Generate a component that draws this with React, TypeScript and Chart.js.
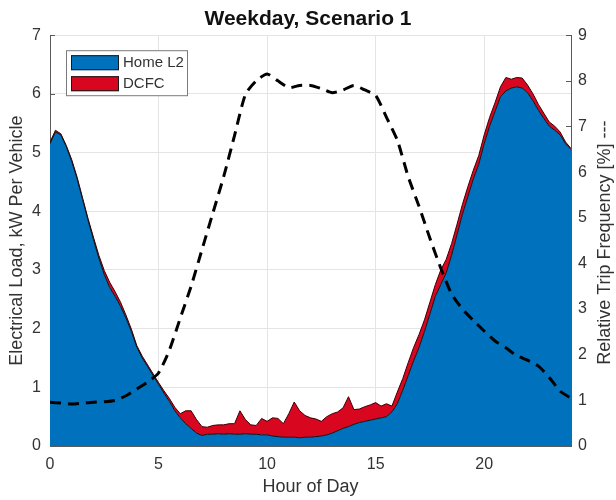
import React, { useEffect, useRef } from 'react';
import { Chart, registerables } from 'chart.js';

Chart.register(...registerables);

// ---- data ----
const loadHours = [
  0, 0.25, 0.5, 0.75, 1, 1.25, 1.5, 1.75, 2, 2.25,
  2.5, 2.75, 3, 3.25, 3.5, 3.75, 4, 4.25, 4.5, 4.75,
  5, 5.25, 5.5, 5.75, 6, 6.25, 6.5, 6.75, 7, 7.25,
  7.5, 7.75, 8, 8.25, 8.5, 8.75, 9, 9.25, 9.5, 9.75,
  10, 10.25, 10.5, 10.75, 11, 11.25, 11.5, 11.75, 12, 12.25,
  12.5, 12.75, 13, 13.25, 13.5, 13.75, 14, 14.25, 14.5, 14.75,
  15, 15.25, 15.5, 15.75, 16, 16.25, 16.5, 16.75, 17, 17.25,
  17.5, 17.75, 18, 18.25, 18.5, 18.75, 19, 19.25, 19.5, 19.75,
  20, 20.25, 20.5, 20.75, 21, 21.25, 21.5, 21.75, 22, 22.25,
  22.5, 22.75, 23, 23.25, 23.5, 23.75, 24,
];

const homeL2 = [
  5.15, 5.35, 5.3, 5.1, 4.85, 4.55, 4.2, 3.85, 3.52, 3.2,
  2.92, 2.7, 2.55, 2.38, 2.18, 1.95, 1.68, 1.5, 1.35, 1.2,
  1.05, 0.9, 0.76, 0.6, 0.48, 0.38, 0.3, 0.22, 0.18, 0.2,
  0.2, 0.21, 0.2, 0.21, 0.2, 0.2, 0.21, 0.2, 0.2, 0.19,
  0.19, 0.17, 0.16, 0.15, 0.15, 0.15, 0.14, 0.15, 0.15, 0.16,
  0.17, 0.19, 0.22, 0.26, 0.3, 0.33, 0.37, 0.4, 0.42, 0.44,
  0.46, 0.48, 0.5, 0.58, 0.72, 0.95, 1.2, 1.45, 1.68, 1.95,
  2.25, 2.55, 2.75, 2.95, 3.25, 3.6, 3.95, 4.25, 4.55, 4.8,
  5.15, 5.45, 5.7, 5.95, 6.05, 6.1, 6.12, 6.1, 6.02, 5.88,
  5.72, 5.58, 5.45, 5.38, 5.3, 5.15, 5.05,
];

const dcfc = [
  0.03, 0.03, 0.02, 0.02, 0.03, 0.03, 0.03, 0.03, 0.04, 0.05,
  0.07, 0.09, 0.08, 0.07, 0.05, 0.04, 0.03, 0.03, 0.03, 0.03,
  0.03, 0.04, 0.05, 0.06, 0.07, 0.22, 0.3, 0.23, 0.15, 0.12,
  0.15, 0.15, 0.16, 0.17, 0.18, 0.4, 0.24, 0.16, 0.15, 0.28,
  0.23, 0.31, 0.31, 0.23, 0.4, 0.6, 0.46, 0.37, 0.33, 0.3,
  0.25, 0.31, 0.33, 0.32, 0.35, 0.51, 0.25, 0.23, 0.25, 0.26,
  0.28, 0.2, 0.22, 0.1, 0.2, 0.2, 0.22, 0.23, 0.22, 0.2,
  0.2, 0.2, 0.25, 0.23, 0.2, 0.18, 0.17, 0.17, 0.15, 0.15,
  0.15, 0.15, 0.15, 0.17, 0.23, 0.15, 0.16, 0.17, 0.13, 0.12,
  0.1, 0.09, 0.07, 0.07, 0.05, 0.03, 0.02,
];

const tripHours = [
  0, 0.5, 1, 1.5, 2, 2.5, 3, 3.5, 4, 4.5,
  5, 5.5, 6, 6.5, 7, 7.5, 8, 8.5, 9, 9.5,
  10, 10.5, 11, 11.5, 12, 12.5, 13, 13.5, 14, 14.5,
  15, 15.5, 16, 16.5, 17, 17.5, 18, 18.5, 19, 19.5,
  20, 20.5, 21, 21.5, 22, 22.5, 23, 23.5, 24,
];

const tripFreq = [
  0.96, 0.94, 0.92, 0.94, 0.96, 0.97, 1.0, 1.1, 1.25, 1.4,
  1.6, 2.1, 2.8, 3.5, 4.3, 5.1, 5.9, 6.8, 7.7, 8.0,
  8.15, 8.0, 7.85, 7.9, 7.9, 7.83, 7.74, 7.8, 7.9, 7.8,
  7.68, 7.2, 6.7, 5.9, 5.25, 4.55, 3.9, 3.33, 3.0, 2.75,
  2.52, 2.3, 2.15, 1.98, 1.88, 1.75, 1.5, 1.2, 1.05,
];

const xTicks = [0, 5, 10, 15, 20];
const yTicks = [0, 1, 2, 3, 4, 5, 6, 7];
const y1Ticks = [0, 1, 2, 3, 4, 5, 6, 7, 8, 9];

const TITLE = 'Weekday, Scenario 1';
const X_TITLE = 'Hour of Day';
const Y_TITLE = 'Electrical Load, kW Per Vehicle';
const Y1_TITLE = 'Relative Trip Frequency [%] ---';
const LABEL_HOME = 'Home L2';
const LABEL_DCFC = 'DCFC';

const BLUE = '#0071BC';
const RED = '#D9061F';
const FONT = "'Liberation Sans', Arial, Helvetica, sans-serif";
const TEXT = '#333333';
const AXIS = '#5a5a5a';

const decorPlugin = {
  id: 'decor',
  beforeDatasetsDraw(chart: any) {
    const { ctx, chartArea: ca, scales } = chart;
    ctx.save();
    ctx.strokeStyle = AXIS;
    ctx.lineWidth = 1;
    ctx.beginPath();
    for (const v of yTicks) {
      const y = Math.round(scales.y.getPixelForValue(v)) + 0.5;
      ctx.moveTo(ca.left, y);
      ctx.lineTo(ca.left + 5, y);
    }
    for (const v of y1Ticks) {
      const y = Math.round(scales.y1.getPixelForValue(v)) + 0.5;
      ctx.moveTo(ca.right, y);
      ctx.lineTo(ca.right - 5, y);
    }
    for (const v of xTicks) {
      const x = Math.round(scales.x.getPixelForValue(v)) + 0.5;
      ctx.moveTo(x, ca.bottom);
      ctx.lineTo(x, ca.bottom - 5);
    }
    ctx.stroke();
    ctx.restore();
  },
  afterDraw(chart: any) {
    const { ctx, chartArea: ca } = chart;
    ctx.save();
    // right axis title, reading bottom-to-top
    ctx.translate(605, (ca.top + ca.bottom) / 2 + 2);
    ctx.rotate(-Math.PI / 2);
    ctx.font = `18px ${FONT}`;
    ctx.fillStyle = TEXT;
    ctx.textAlign = 'center';
    ctx.textBaseline = 'middle';
    ctx.fillText(Y1_TITLE, 0, 0);
    ctx.restore();

    // legend box inside the plot
    const lx = ca.left + 16;
    const ly = ca.top + 15;
    const lw = 121;
    const lh = 45;
    ctx.save();
    ctx.fillStyle = '#ffffff';
    ctx.fillRect(lx, ly, lw, lh);
    ctx.strokeStyle = '#7a7a7a';
    ctx.lineWidth = 1;
    ctx.strokeRect(lx + 0.5, ly + 0.5, lw, lh);
    const entries = [
      { label: chart.data.datasets[1].label, color: BLUE },
      { label: chart.data.datasets[2].label, color: RED },
    ];
    entries.forEach((e, i) => {
      const py = ly + 5 + i * 21;
      ctx.fillStyle = e.color;
      ctx.fillRect(lx + 5, py, 48, 15);
      ctx.strokeStyle = '#1a1a1a';
      ctx.strokeRect(lx + 5.5, py + 0.5, 47, 14);
      ctx.fillStyle = TEXT;
      ctx.font = `15px ${FONT}`;
      ctx.textAlign = 'left';
      ctx.textBaseline = 'middle';
      ctx.fillText(e.label, lx + 57, py + 8);
    });
    ctx.restore();
  },
};

export default function App() {
  const ref = useRef<HTMLCanvasElement>(null);

  useEffect(() => {
    if (!ref.current) return;
    const bluePts = loadHours.map((h, i) => ({ x: h, y: homeL2[i] }));
    const redPts = loadHours.map((h, i) => ({ x: h, y: homeL2[i] + dcfc[i] }));
    const tripPts = tripHours.map((h, i) => ({ x: h, y: tripFreq[i] }));

    const chart = new Chart(ref.current, {
      type: 'line',
      data: {
        datasets: [
          {
            label: 'Trip Frequency',
            data: tripPts,
            yAxisID: 'y1',
            borderColor: '#000000',
            borderWidth: 3,
            borderDash: [11, 7],
            pointRadius: 0,
            fill: false,
            tension: 0.2,
            order: 0,
          },
          {
            label: LABEL_HOME,
            data: bluePts,
            yAxisID: 'y',
            borderColor: '#111111',
            borderWidth: 1,
            backgroundColor: BLUE,
            pointRadius: 0,
            fill: 'origin',
            tension: 0,
            order: 1,
          },
          {
            label: LABEL_DCFC,
            data: redPts,
            yAxisID: 'y',
            borderColor: '#3a0008',
            borderWidth: 1,
            backgroundColor: RED,
            pointRadius: 0,
            fill: 1,
            tension: 0,
            order: 2,
          },
        ],
      },
      options: {
        responsive: false,
        animation: false,
        devicePixelRatio: 1,
        layout: { padding: 0 },
        plugins: {
          legend: { display: false },
          tooltip: { enabled: false },
          title: {
            display: true,
            text: TITLE,
            color: '#111111',
            font: { family: FONT, size: 21, weight: 'bold', lineHeight: 1.2 },
            padding: { top: 7, bottom: 3 },
          },
        },
        scales: {
          x: {
            type: 'linear',
            min: 0,
            max: 24,
            afterBuildTicks: (s: any) => {
              s.ticks = xTicks.map((v) => ({ value: v }));
            },
            afterFit: (s: any) => {
              s.height = 54;
            },
            ticks: {
              color: TEXT,
              font: { family: FONT, size: 16 },
              padding: 9,
              maxRotation: 0,
            },
            grid: { color: '#e4e4e4', drawTicks: false },
            border: { color: AXIS },
            title: {
              display: true,
              text: X_TITLE,
              color: TEXT,
              font: { family: FONT, size: 18, lineHeight: 1.2 },
              padding: { top: 0, bottom: 2 },
            },
          },
          y: {
            type: 'linear',
            position: 'left',
            min: 0,
            max: 7,
            afterBuildTicks: (s: any) => {
              s.ticks = yTicks.map((v) => ({ value: v }));
            },
            afterFit: (s: any) => {
              s.width = 50;
            },
            ticks: {
              color: TEXT,
              font: { family: FONT, size: 16 },
              padding: 9,
            },
            grid: { color: '#e4e4e4', drawTicks: false },
            border: { color: AXIS },
            title: {
              display: true,
              text: Y_TITLE,
              color: TEXT,
              font: { family: FONT, size: 18, lineHeight: 1.2 },
              padding: { top: 6, bottom: 0 },
            },
          },
          y1: {
            type: 'linear',
            position: 'right',
            min: 0,
            max: 9,
            afterBuildTicks: (s: any) => {
              s.ticks = y1Ticks.map((v) => ({ value: v }));
            },
            afterFit: (s: any) => {
              s.width = 45;
            },
            ticks: {
              color: TEXT,
              font: { family: FONT, size: 16 },
              padding: 7,
            },
            grid: { display: false, drawTicks: false },
            border: { color: AXIS },
          },
        },
      },
      plugins: [decorPlugin],
    } as any);

    return () => chart.destroy();
  }, []);

  return (
    <div style={{ position: 'fixed', left: 0, top: 0, width: 616, height: 500, background: '#fff' }}>
      <canvas ref={ref} width={616} height={500} style={{ display: 'block' }} />
    </div>
  );
}
